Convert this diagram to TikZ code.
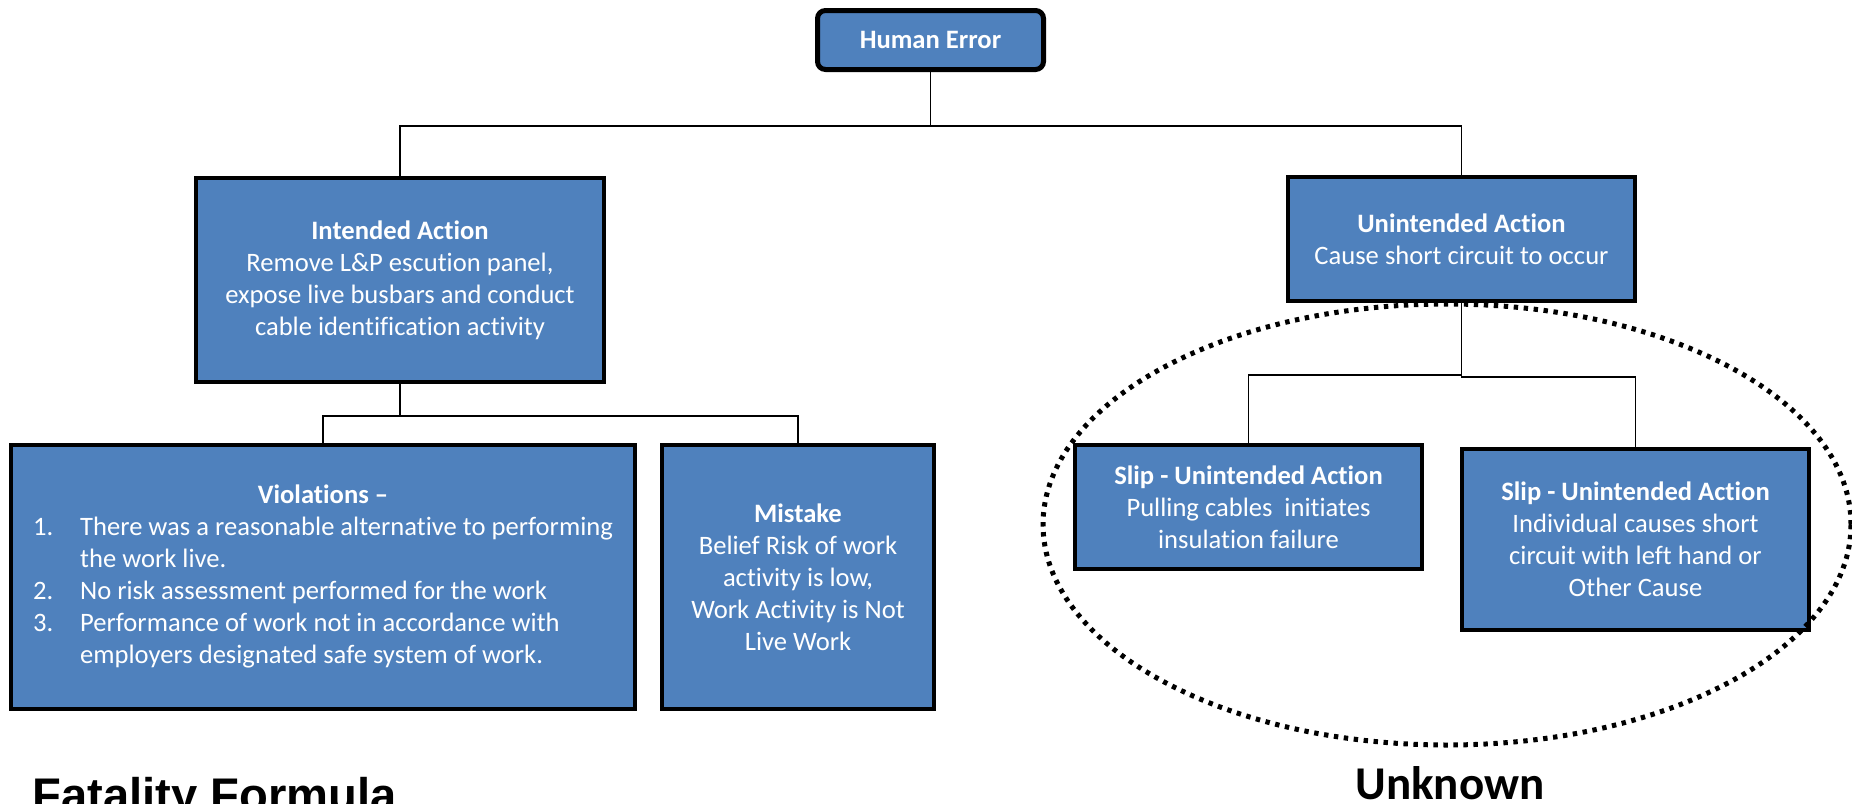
\documentclass[tikz,border=0pt]{standalone}
\usepackage{fontspec}
\setmainfont{Carlito}[Ligatures={TeX,NoCommon}]
\newfontfamily\titlefont{Liberation Sans}
\usepackage{tikz}
\usetikzlibrary{positioning,calc}
\definecolor{boxblue}{HTML}{4F81BD}

\begin{document}
\begin{tikzpicture}[
			x = 0.5pt, y = -0.5pt,
			box/.style = {draw=black, line width=2.2pt, fill=boxblue, text=white, align=center, inner sep=0pt,
				font=\fontsize{13.3}{16}\selectfont},
			conn/.style = {line width=0.85pt},
			ring/.style = {line width=2.5pt, dash pattern=on 2.2pt off 2.8pt}]

			\useasboundingbox (0,0) rectangle (1852,803);

			\node[box, rounded corners=4pt, line width=2.5pt, minimum width=113pt, minimum height=29.5pt] (he) at (930.5,40) {\textbf{Human Error}};

			\node[box, minimum width=203.8pt, minimum height=101.8pt] (ia) at (400,280)
				{\textbf{Intended Action}\\Remove L\&P escution panel,\\expose live busbars and conduct\\cable identification activity};
			\node[box, minimum width=173.3pt, minimum height=61.8pt] (ua) at (1461.5,239)
				{\textbf{Unintended Action}\\Cause short circuit to occur};

			\node[box, minimum width=311.8pt, minimum height=131.8pt] (viol) at (323,577)
				{\begin{tabular}{@{}p{23.5pt}@{}l@{}}
					\multicolumn{2}{c}{\textbf{Violations –}}\\
					1. & There was a reasonable alternative to performing\\
					   & the work live.\\
					2. & No risk assessment performed for the work\\
					3. & Performance of work not in accordance with\\
					   & employers designated safe system of work.
				\end{tabular}};
			\node[box, minimum width=135.8pt, minimum height=131.8pt] (mist) at (798,577)
				{\textbf{Mistake}\\Belief Risk of work\\activity is low,\\Work Activity is Not\\Live Work};

			\node[box, minimum width=173.3pt, minimum height=61.8pt] (slipa) at (1248.5,507)
				{\textbf{Slip - Unintended Action}\\Pulling cables\ \ initiates\\insulation failure};
			\node[box, minimum width=173.3pt, minimum height=90.3pt] (slipb) at (1635.5,539.5)
				{\textbf{Slip - Unintended Action}\\Individual causes short\\circuit with left hand or\\Other Cause};

			\draw[conn] (he.south) -- ++(0,54) -| (ia.north);
			\draw[conn] (he.south) -- ++(0,54) -| (ua.north);
			\draw[conn] (ia.south) -- ++(0,32) -| (viol.north);
			\draw[conn] (ia.south) -- ++(0,32) -| (mist.north);
			\draw[conn] (ua.south) -- ++(0,72) -| (slipa.north);
			\draw[conn] (ua.south) -- ++(0,74) -| (slipb.north);

			\draw[ring] (1447,524.5) ellipse [x radius=202pt, y radius=110.25pt];

			\node[anchor=base west, inner sep=0pt, font=\titlefont\bfseries\fontsize{23.6}{28}\selectfont] (fatal) at (32,811) {Fatality Formula};
			\node[anchor=base, inner sep=0pt, font=\bfseries\fontsize{23.5}{28}\selectfont] (unknown) at (1450,799) {Unknown};

		\end{tikzpicture}
\end{document}
